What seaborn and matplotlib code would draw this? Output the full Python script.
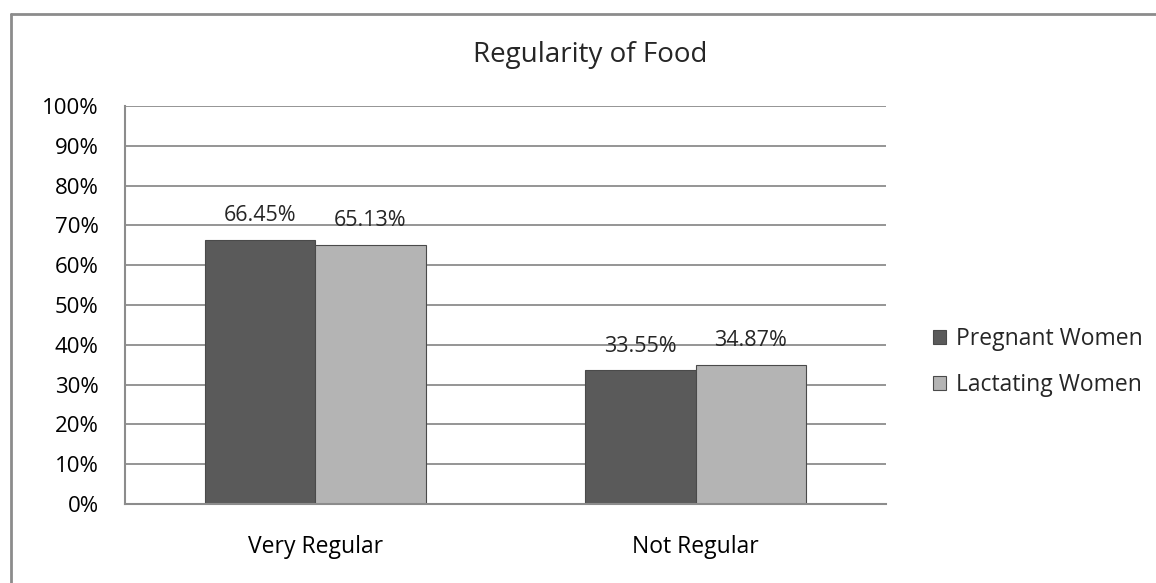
import matplotlib
matplotlib.use("Agg")
import matplotlib.pyplot as plt
import seaborn as sns
import pandas as pd
from matplotlib.lines import Line2D

categories = ["Very Regular", "Not Regular"]
series = ["Pregnant Women", "Lactating Women"]
pregnant = [66.45, 33.55]
lactating = [65.13, 34.87]
ytick_values = list(range(0, 101, 10))

df = pd.DataFrame({
    "Category": categories * 2,
    "Value": pregnant + lactating,
    "Group": [series[0]] * len(categories) + [series[1]] * len(categories),
})

sns.set_theme(style="white")
plt.rcParams["font.family"] = ["Open Sans", "DejaVu Sans"]

GRID = "#8c8c8c"
fig = plt.figure(figsize=(11.56, 5.83), dpi=100)
ax = fig.add_axes([0.1081, 0.1355, 0.6583, 0.6827])

sns.barplot(data=df, x="Category", y="Value", hue="Group",
            order=categories, hue_order=series,
            palette=["#5a5a5a", "#b4b4b4"], saturation=1,
            width=0.58, edgecolor="#4a4a4a", linewidth=0.8, ax=ax)

ax.set_xlim(-0.5, 1.5)
ax.set_ylim(0, 100)
ax.set_yticks(ytick_values)
ax.set_yticklabels([f"{v}%" for v in ytick_values])
ax.yaxis.grid(True, color=GRID, linewidth=1.3)
ax.set_axisbelow(True)
ax.set_xlabel("")
ax.set_ylabel("")
for side in ("top", "right"):
    ax.spines[side].set_visible(False)
for side in ("left", "bottom"):
    ax.spines[side].set_color(GRID)
    ax.spines[side].set_linewidth(1.5)
ax.tick_params(axis="y", length=0, pad=19, labelsize=16, colors="black")
ax.tick_params(axis="x", length=0, pad=22, labelsize=16.5, colors="black")

# value labels above each bar
for container, vals in zip(ax.containers, [pregnant, lactating]):
    ax.bar_label(container, labels=[f"{v:.2f}%" for v in vals],
                 padding=10, fontsize=15.5)

handles, labels = ax.get_legend_handles_labels()
ax.get_legend().remove()
fig.legend(handles, labels, loc="center left", bbox_to_anchor=(0.789, 0.379),
           frameon=False, fontsize=16.5, handlelength=0.6, handleheight=0.6,
           handletextpad=0.4, labelspacing=0.95)

fig.text(590 / 1156, 1 - 55 / 583, "Regularity of Food",
         ha="center", va="center", fontsize=20)

# chart frame edges
fig.add_artist(Line2D([11 / 1156, 1], [1 - 14 / 583] * 2,
                      transform=fig.transFigure, color=GRID, linewidth=2))
fig.add_artist(Line2D([11 / 1156] * 2, [0, 1 - 14 / 583],
                      transform=fig.transFigure, color=GRID, linewidth=2))

fig.savefig("out.png", dpi=100, facecolor="white")
